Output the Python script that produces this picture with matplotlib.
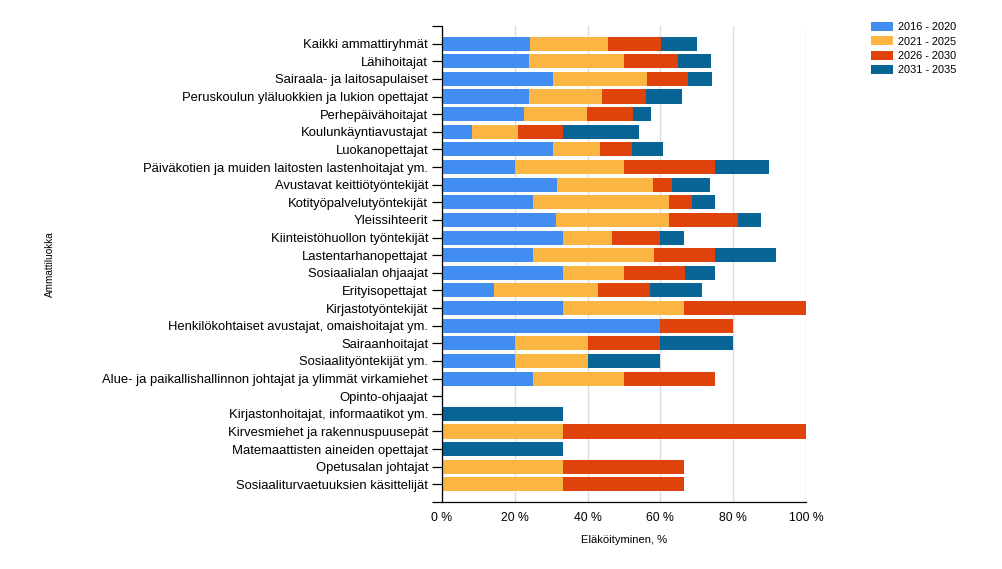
import matplotlib
matplotlib.use("Agg")
import matplotlib.pyplot as plt
import numpy as np
from matplotlib.ticker import FixedLocator

plt.rcParams['font.family'] = ['Liberation Sans', 'DejaVu Sans']

categories = [
    "Kaikki ammattiryhmät",
    "Lähihoitajat",
    "Sairaala- ja laitosapulaiset",
    "Peruskoulun yläluokkien ja lukion opettajat",
    "Perhepäivähoitajat",
    "Koulunkäyntiavustajat",
    "Luokanopettajat",
    "Päiväkotien ja muiden laitosten lastenhoitajat ym.",
    "Avustavat keittiötyöntekijät",
    "Kotityöpalvelutyöntekijät",
    "Yleissihteerit",
    "Kiinteistöhuollon työntekijät",
    "Lastentarhanopettajat",
    "Sosiaalialan ohjaajat",
    "Erityisopettajat",
    "Kirjastotyöntekijät",
    "Henkilökohtaiset avustajat, omaishoitajat ym.",
    "Sairaanhoitajat",
    "Sosiaalityöntekijät ym.",
    "Alue- ja paikallishallinnon johtajat ja ylimmät virkamiehet",
    "Opinto-ohjaajat",
    "Kirjastonhoitajat, informaatikot ym.",
    "Kirvesmiehet ja rakennuspuusepät",
    "Matemaattisten aineiden opettajat",
    "Opetusalan johtajat",
    "Sosiaaliturvaetuuksien käsittelijät",
]

series_labels = ["2016 - 2020", "2021 - 2025", "2026 - 2030", "2031 - 2035"]

p2016_2020 = [24.1, 23.8, 30.4, 23.8, 22.5, 8.2, 30.4, 20.0, 31.5, 25.0, 31.25, 33.3, 25.0, 33.3, 14.3,
              33.3, 60.0, 20.0, 20.0, 25.0, 0, 0, 0, 0, 0, 0]
p2021_2025 = [21.5, 26.2, 25.9, 20.1, 17.3, 12.6, 13.0, 30.0, 26.4, 37.5, 31.25, 13.3, 33.3, 16.7, 28.6,
              33.3, 0, 20.0, 20.0, 25.0, 0, 0, 33.3, 0, 33.3, 33.3]
p2026_2030 = [14.5, 14.8, 11.3, 12.1, 12.6, 12.4, 8.8, 25.0, 5.3, 6.25, 18.75, 13.3, 16.7, 16.7, 14.3,
              33.4, 20.0, 20.0, 0, 25.0, 0, 0, 66.7, 0, 33.3, 33.3]
p2031_2035 = [9.9, 9.1, 6.6, 9.9, 5.0, 20.9, 8.5, 14.8, 10.4, 6.25, 6.25, 6.7, 16.7, 8.3, 14.3,
              0, 0, 20.0, 20.0, 0, 0, 33.3, 0, 33.3, 0, 0]

colors = ["#428EF0", "#FBB542", "#E0420C", "#066594"]

W, H = 1003, 569
fig = plt.figure(figsize=(W / 100, H / 100), dpi=100)
ax = fig.add_axes([442 / W, 1 - 502 / H, (806 - 442) / W, (502 - 26) / H])

y = np.arange(len(categories))
left = np.zeros(len(categories))
for vals, col, lab in zip([p2016_2020, p2021_2025, p2026_2030, p2031_2035], colors, series_labels):
    v = np.array(vals, dtype=float)
    ax.barh(y, v, left=left, height=0.8, color=col, label=lab, zorder=2)
    left += v

ax.set_xlim(0, 100)
ax.set_ylim(len(categories), -1)
ax.set_yticks(y)
ax.set_yticklabels(categories, fontsize=9.4)
ax.yaxis.set_minor_locator(FixedLocator([-1, len(categories)]))
ax.tick_params(axis='y', which='both', length=7.5, width=0.9, pad=2.5, color='black')

ax.set_xticks([0, 20, 40, 60, 80, 100])
ax.set_xticklabels(["0 %", "20 %", "40 %", "60 %", "80 %", "100 %"], fontsize=8.8)
ax.xaxis.set_minor_locator(FixedLocator([0, 100]))
ax.tick_params(axis='x', which='major', length=0, pad=7)
ax.tick_params(axis='x', which='minor', length=4.5, width=0.9, color='black')

ax.grid(axis='x', color='#dddddd', linewidth=1.0, zorder=0)
ax.set_axisbelow(True)
for s in ['top', 'right']:
    ax.spines[s].set_visible(False)
for s in ['left', 'bottom']:
    ax.spines[s].set_linewidth(0.9)
    ax.spines[s].set_color('black')

ax.set_xlabel("Eläköityminen, %", fontsize=8.1)
ax.xaxis.set_label_coords(0.5, -(540 - 502) / (502 - 26), transform=ax.transAxes)
ax.xaxis.label.set_va('center')
ax.set_ylabel("Ammattiluokka", fontsize=7.2)
ax.yaxis.set_label_coords((50 - 442) / (806 - 442), 0.5)
ax.yaxis.label.set_va('center')

fig.legend(loc='upper left', bbox_to_anchor=(871 / W, 1 - 22 / H), bbox_transform=fig.transFigure,
           frameon=False, fontsize=7.92, borderpad=0, borderaxespad=0,
           handlelength=2.0, handleheight=0.85, handletextpad=0.45, labelspacing=0.38)

fig.savefig("out.png", dpi=100)
